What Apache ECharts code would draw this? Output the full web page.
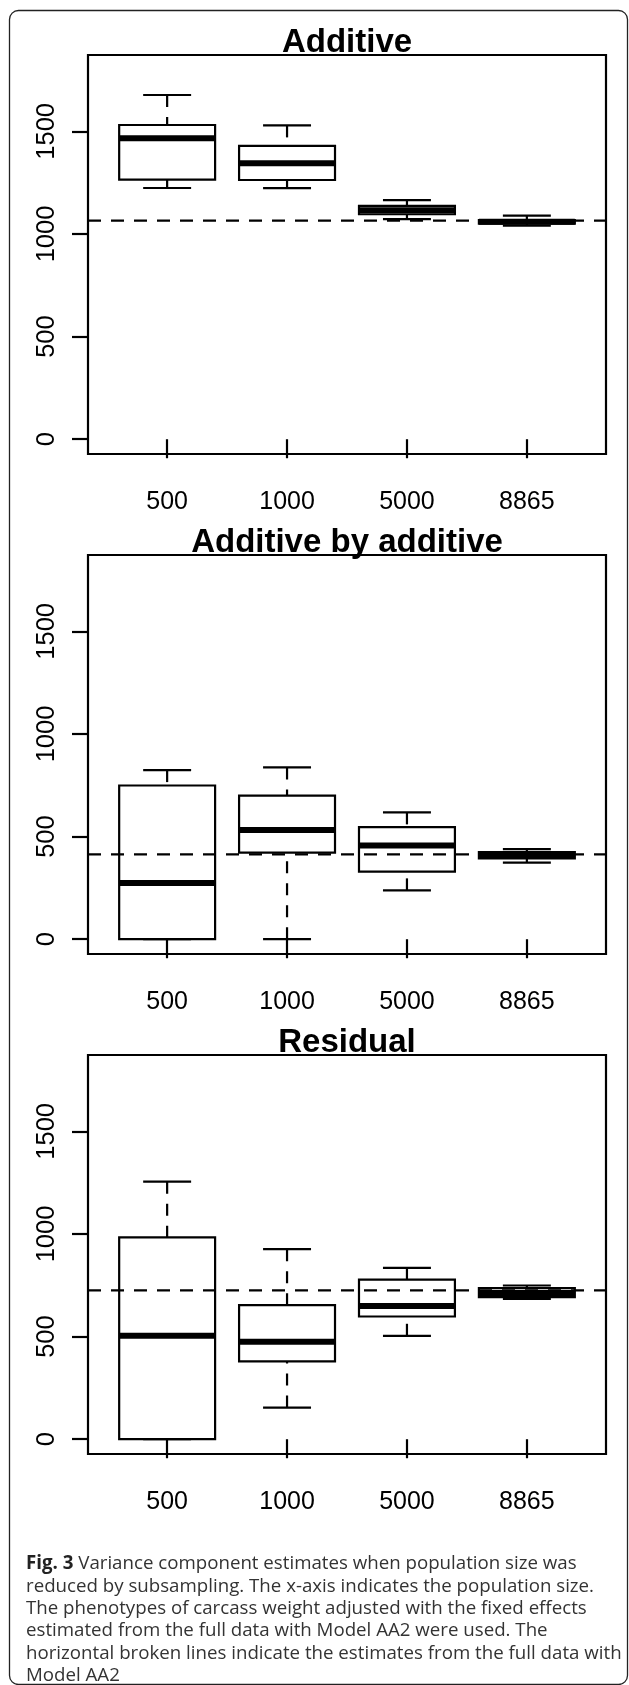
<!DOCTYPE html>
<html>
<head>
<meta charset="utf-8">
<script src="https://cdn.jsdelivr.net/npm/echarts@6/dist/echarts.min.js"></script>
<style>
html,body{margin:0;padding:0;background:#fff;}
#chart{width:629px;height:1685px;}
</style>
</head>
<body>
<div id="chart"></div>
<script>
// ---- data ----
const categories = ['500', '1000', '5000', '8865'];
const panelTitles = ['Additive', 'Additive by additive', 'Residual'];
const yTicks = [0, 500, 1000, 1500];
// each row: [lower whisker, Q1, median, Q3, upper whisker]
const additive = [
  [1224, 1265, 1467, 1531, 1677],
  [1223, 1263, 1344, 1429, 1529],
  [1072, 1096, 1115, 1137, 1165],
  [1040, 1050, 1059, 1068, 1089]
];
const additiveByAdditive = [
  [0, 0, 274, 749, 824],
  [0, 422, 532, 700, 837],
  [238, 329, 457, 546, 618],
  [373, 394, 409, 425, 439]
];
const residual = [
  [0, 0, 504, 983, 1255],
  [154, 379, 475, 653, 926],
  [504, 598, 649, 778, 835],
  [684, 692, 713, 736, 749]
];
const fullDataEstimates = [1065, 413, 725];
const captionLines = [
  '{b|Fig. 3} Variance component estimates when population size was',
  'reduced by subsampling. The x-axis indicates the population size.',
  'The phenotypes of carcass weight adjusted with the fixed effects',
  'estimated from the full data with Model AA2 were used. The',
  'horizontal broken lines indicate the estimates from the full data with',
  'Model AA2'
];

// ---- layout ----
const panels = [additive, additiveByAdditive, residual];
const gridTops = [55, 555, 1055];
const gridLeft = 88, gridWidth = 518, gridHeight = 399;
const xMin = 0.34, xMax = 4.66, yMin = -72, yMax = 1872;
const FONT = "'Liberation Sans', Arial, Helvetica, sans-serif";
const CAPFONT = "'Open Sans', 'Noto Sans', sans-serif";

function renderBox(params, api) {
  const x = api.value(0);
  const lo = api.value(1), q1 = api.value(2), med = api.value(3), q3 = api.value(4), hi = api.value(5);
  const c = (xv, yv) => api.coord([xv, yv]);
  const bw = 0.4, sw = 0.2;
  const solid = { stroke: '#000', lineWidth: 2.2, fill: null };
  const dashed = { stroke: '#000', lineWidth: 2.2, lineDash: [12, 10], fill: null };
  const pTopL = c(x - bw, q3), pBotR = c(x + bw, q1);
  const seg = (a, b, style) => ({ type: 'line', shape: { x1: a[0], y1: a[1], x2: b[0], y2: b[1] }, style: style });
  return {
    type: 'group',
    children: [
      seg(c(x, hi), c(x, q3), dashed),
      seg(c(x, lo), c(x, q1), dashed),
      seg(c(x - sw, hi), c(x + sw, hi), solid),
      seg(c(x - sw, lo), c(x + sw, lo), solid),
      { type: 'rect', shape: { x: pTopL[0], y: pTopL[1], width: pBotR[0] - pTopL[0], height: pBotR[1] - pTopL[1] }, style: solid },
      seg(c(x - bw, med), c(x + bw, med), { stroke: '#000', lineWidth: 6, fill: null })
    ]
  };
}

const grid = [], xAxis = [], yAxis = [], series = [], title = [];
panels.forEach((stats, p) => {
  grid.push({ left: gridLeft, top: gridTops[p], width: gridWidth, height: gridHeight, show: true, borderColor: '#000', borderWidth: 2.2, backgroundColor: 'transparent' });
  xAxis.push({
    type: 'value', gridIndex: p, min: xMin, max: xMax,
    axisLine: { show: false }, splitLine: { show: false },
    axisTick: { show: true, customValues: [1, 2, 3, 4], length: 19, lineStyle: { color: '#000', width: 2.2 } },
    axisLabel: { show: true, customValues: [1, 2, 3, 4], formatter: v => categories[Math.round(v) - 1], margin: 36, fontSize: 25, fontFamily: FONT, color: '#000' }
  });
  yAxis.push({
    type: 'value', gridIndex: p, min: yMin, max: yMax,
    axisLine: { show: false }, splitLine: { show: false },
    axisTick: { show: true, customValues: yTicks, length: 16, lineStyle: { color: '#000', width: 2.2 } },
    axisLabel: { show: true, customValues: yTicks, formatter: v => String(v), rotate: 90, margin: 28, fontSize: 25.5, fontFamily: FONT, color: '#000' }
  });
  title.push({
    text: panelTitles[p], left: gridLeft + gridWidth / 2, textAlign: 'center', top: gridTops[p] - 29,
    padding: 0,
    textStyle: { fontSize: 33, fontWeight: 'bold', fontFamily: FONT, color: '#000' }
  });
  series.push({
    type: 'custom', xAxisIndex: p, yAxisIndex: p,
    renderItem: renderBox,
    encode: { x: 0, y: [1, 2, 3, 4, 5] },
    data: stats.map((s, i) => [i + 1].concat(s)),
    z: 2, silent: true, animation: false
  });
  series.push({
    type: 'line', xAxisIndex: p, yAxisIndex: p,
    data: [[xMin, fullDataEstimates[p]], [xMax, fullDataEstimates[p]]],
    symbol: 'none', silent: true, animation: false, z: 3,
    lineStyle: { color: '#000', width: 2.2, type: [13, 10] }
  });
});

const graphic = [
  { type: 'rect', shape: { x: 9.5, y: 10.5, width: 618, height: 1674, r: 9 }, style: { fill: null, stroke: '#222', lineWidth: 1.3 }, silent: true, z: 0 }
];
captionLines.forEach((t, i) => {
  graphic.push({
    type: 'text', x: 26, y: 1564 + i * 22.3, silent: true,
    style: {
      text: t, fill: '#333', fontSize: 18.7, fontFamily: CAPFONT, verticalAlign: 'middle',
      rich: { b: { fontWeight: 'bold', fontSize: 18.7, fontFamily: CAPFONT, fill: '#222' } }
    }
  });
});

const chart = echarts.init(document.getElementById('chart'), null, { renderer: 'canvas' });
chart.setOption({
  animation: false,
  backgroundColor: '#fff',
  title, grid, xAxis, yAxis, series, graphic
});
</script>
</body>
</html>
